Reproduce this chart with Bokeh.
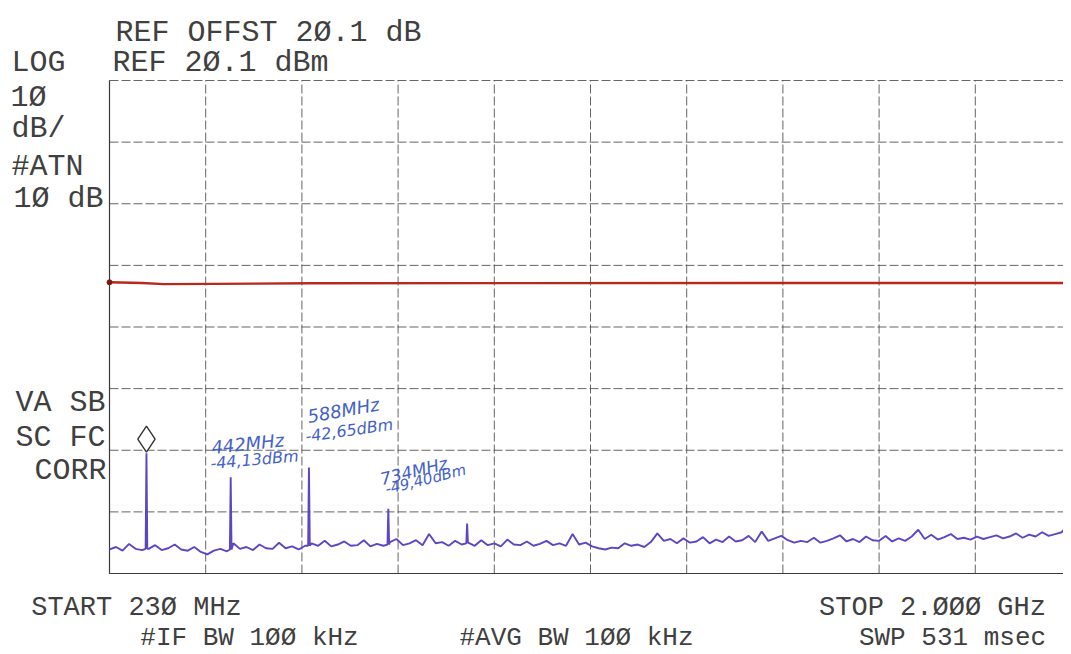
from bokeh.plotting import figure
from bokeh.models import Range1d, Label, ColumnDataSource
from bokeh.transform import dodge
from bokeh.embed import file_html
from bokeh.resources import INLINE

# ---------------- data ----------------
freq_ticks_mhz = [230, 407, 584, 761, 938, 1115, 1292, 1469, 1646, 1823, 2000]
level_ticks_dbm = [20.1, 10.1, 0.1, -9.9, -19.9, -29.9, -39.9, -49.9, -59.9]

noise_start_mhz = 230
noise_step_mhz = 12
noise_dbm = [
    -56.0, -55.6, -56.2, -55.1, -55.9, -56.1,
    -55.9, -55.3, -56.1, -55.8, -55.2, -56.0, -56.2, -55.6, -56.4, -56.8,
    -56.2, -55.9, -56.3,
    -55.0, -55.9, -55.6, -56.1, -55.2, -55.8, -55.9, -54.9, -55.8, -55.5, -56.0, -55.4,
    -55.0, -55.4, -54.6, -55.5, -55.2, -54.7, -55.4, -55.3, -54.5, -55.5, -55.1, -55.4,
    -54.8, -54.3, -55.3, -55.0, -54.5, -55.3, -53.5, -55.0, -54.8, -55.4, -54.6, -55.2,
    -54.9, -55.4, -54.5, -55.3, -55.0, -55.5, -54.4, -55.2, -55.3, -54.7, -55.4, -55.1,
    -54.6, -55.3, -55.0, -55.4,
    -53.5, -55.2, -54.9, -55.5, -55.8, -56.0, -55.7, -55.8, -55.0, -55.4, -55.2, -55.6,
    -54.8,
    -53.4, -54.6, -54.3, -55.0, -54.2, -54.9, -54.7, -54.0, -55.0, -54.4, -54.8, -53.9,
    -54.7, -54.5, -53.8, -54.8,
    -53.1, -54.6, -54.2, -53.8, -54.5, -54.9, -54.6, -54.8, -54.1, -54.9, -54.6, -54.2,
    -53.7, -54.7, -54.3, -54.8, -53.9, -54.5, -54.6, -53.8, -54.7, -54.2, -54.6, -53.9,
    -52.8, -54.3, -53.6, -54.4, -54.0, -53.5, -54.3, -54.1, -54.4, -53.9, -54.3, -54.0,
    -53.7, -54.2, -53.9, -53.4, -54.1, -53.6, -53.9, -53.2, -53.8, -53.5, -53.2, -52.0,
]
spike_mhz = [298, 453, 597, 743, 888]
spike_dbm = [-40.4, -44.3, -42.7, -49.4, -51.8]
spike_base_dbm = [-55.9, -56.0, -55.4, -55.2, -55.0]

marker_mhz = [298]
marker_dbm = [-40.4]

display_line_mhz = [230, 290, 330, 420, 600, 2000]
display_line_dbm = [-12.65, -12.75, -12.95, -12.9, -12.8, -12.75]

# ---------------- layout ----------------
W, H = 1063, 646
PX_PER_DIV_X = 96.2
FRAME_L = 109                    # px of 230 MHz
FRAME_T, FRAME_B = 80, 573       # px of top / bottom graticule
fx0, fx1 = freq_ticks_mhz[0], freq_ticks_mhz[-1]
ly0, ly1 = level_ticks_dbm[0], level_ticks_dbm[-1]
ppm = PX_PER_DIV_X * (len(freq_ticks_mhz) - 1) / (fx1 - fx0)
ppd = (FRAME_B - FRAME_T) / (ly0 - ly1)
x_start = fx0 - FRAME_L / ppm
x_end = x_start + W / ppm
y_end = ly0 + FRAME_T / ppd
y_start = ly1 - (H - FRAME_B) / ppd

p = figure(width=W, height=H, output_backend="svg", toolbar_location=None,
           x_range=Range1d(x_start, x_end), y_range=Range1d(y_start, y_end),
           x_axis_location=None, y_axis_location=None, min_border=0,
           outline_line_color=None, background_fill_color="white",
           border_fill_color="white")
p.xgrid.visible = False
p.ygrid.visible = False

# graticule, bounded to the ten-by-eight division area
GRID = "#4a4a4a"
p.segment(x0=freq_ticks_mhz, y0=[ly1] * len(freq_ticks_mhz),
          x1=freq_ticks_mhz, y1=[ly0] * len(freq_ticks_mhz),
          line_color=GRID, line_alpha=0.85, line_width=1, line_dash="9 3")
p.segment(x0=[fx0] * len(level_ticks_dbm), y0=level_ticks_dbm,
          x1=[fx1] * len(level_ticks_dbm), y1=level_ticks_dbm,
          line_color=GRID, line_alpha=0.85, line_width=1, line_dash="9 3")
# left/bottom borders look solid
p.line([fx0, fx0], [ly1, ly0], line_color="#3a3a3a", line_width=1.2)
p.line([fx0, fx1], [ly1, ly1], line_color="#3a3a3a", line_width=1.2)

# display line (red)
p.line(display_line_mhz, display_line_dbm, line_color="#b8281e", line_width=2.4)
p.scatter([display_line_mhz[0]], [display_line_dbm[0]], size=5, color="#7a1a12")

# trace
pts = [(noise_start_mhz + noise_step_mhz * i, v) for i, v in enumerate(noise_dbm)]
for f, pk, b in zip(spike_mhz, spike_dbm, spike_base_dbm):
    pts += [(f - 1.5, b), (f, pk), (f + 1.5, b)]
pts.sort()
trace = ColumnDataSource(dict(f=[q[0] for q in pts], v=[q[1] for q in pts]))
p.line("f", "v", source=trace, line_color="#5a48c2", line_width=1.9)

# marker diamond above the marked peak
msrc = ColumnDataSource(dict(f=marker_mhz, v=marker_dbm))
p.scatter(x="f", y=dodge("v", 2.3, range=p.y_range), source=msrc, marker="diamond",
          size=26, fill_color="white", line_color="#333333", line_width=1.4)

# ---------------- texts ----------------
TXT = "#404040"
FONT = "Liberation Mono"

def lab(text, cx, base_y, size=30, align="center", color=TXT, font=FONT,
        angle=0, style="normal"):
    p.add_layout(Label(x=cx, y=H - base_y, x_units="screen", y_units="screen",
                       text=text, text_align=align, text_baseline="alphabetic",
                       text_font=font, text_font_size=f"{size}px", text_color=color,
                       angle=angle, angle_units="deg", text_font_style=style))

lab("REF OFFST 2Ø.1 dB", 268, 32)
lab("REF 2Ø.1 dBm", 220, 62)
lab("LOG", 38, 62)
lab("1Ø", 28, 97)
lab("dB/", 38, 128)
lab("#ATN", 47, 166)
lab("1Ø dB", 58, 198)
lab("VA SB", 60, 402)
lab("SC FC", 60, 437)
lab("CORR", 70, 470)
lab("START 23Ø MHz", 136, 607, size=27)
lab("STOP 2.ØØØ GHz", 932, 607, size=27)
lab("#IF BW 1ØØ kHz", 249, 637, size=26)
lab("#AVG BW 1ØØ kHz", 576, 637, size=26)
lab("SWP 531 msec", 952, 637, size=26)

INK = "#4461c9"
HAND = "DejaVu Sans"
lab("442MHz", 211, 447, size=18, align="left", color=INK, font=HAND, angle=6, style="italic")
lab("-44,13dBm", 210, 463, size=16, align="left", color=INK, font=HAND, angle=5, style="italic")
lab("588MHz", 307, 416, size=18, align="left", color=INK, font=HAND, angle=10, style="italic")
lab("-42,65dBm", 305, 436, size=16, align="left", color=INK, font=HAND, angle=8, style="italic")
lab("734MHz", 380, 479, size=17, align="left", color=INK, font=HAND, angle=14, style="italic")
lab("-49,40dBm", 385, 489, size=15, align="left", color=INK, font=HAND, angle=14, style="italic")

open("out.html", "w").write(file_html(p, INLINE))
